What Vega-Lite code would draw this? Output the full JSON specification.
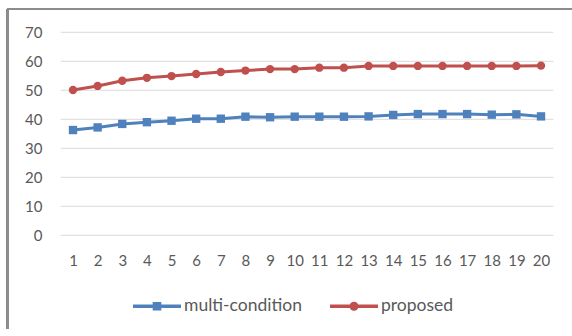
{
  "$schema": "https://vega.github.io/schema/vega-lite/v6.json",
  "autosize": {"type": "none"},
  "padding": {"left": 7, "top": 9, "right": 0, "bottom": 0},
  "width": 565,
  "height": 320,
  "background": "white",
  "config": {
    "view": {"stroke": null},
    "font": "Lato",
    "axis": {"labelOverlap": false, "labelFlush": false, "title": null, "grid": false, "domain": false, "ticks": false, "labelFont": "Lato", "labelFontSize": 15, "labelColor": "#595959"},
    "axisX": {"offset": -77, "labelPadding": 1},
    "axisY": {"offset": -37, "labelPadding": 2}
  },
  "data": {"values": [
    {"x": 1, "series": "multi-condition", "value": 36.3},
    {"x": 2, "series": "multi-condition", "value": 37.2},
    {"x": 3, "series": "multi-condition", "value": 38.4},
    {"x": 4, "series": "multi-condition", "value": 39.0},
    {"x": 5, "series": "multi-condition", "value": 39.5},
    {"x": 6, "series": "multi-condition", "value": 40.2},
    {"x": 7, "series": "multi-condition", "value": 40.2},
    {"x": 8, "series": "multi-condition", "value": 40.9},
    {"x": 9, "series": "multi-condition", "value": 40.7},
    {"x": 10, "series": "multi-condition", "value": 40.9},
    {"x": 11, "series": "multi-condition", "value": 40.9},
    {"x": 12, "series": "multi-condition", "value": 40.9},
    {"x": 13, "series": "multi-condition", "value": 41.0},
    {"x": 14, "series": "multi-condition", "value": 41.5},
    {"x": 15, "series": "multi-condition", "value": 41.8},
    {"x": 16, "series": "multi-condition", "value": 41.8},
    {"x": 17, "series": "multi-condition", "value": 41.8},
    {"x": 18, "series": "multi-condition", "value": 41.6},
    {"x": 19, "series": "multi-condition", "value": 41.7},
    {"x": 20, "series": "multi-condition", "value": 41.0},
    {"x": 1, "series": "proposed", "value": 50.1},
    {"x": 2, "series": "proposed", "value": 51.5},
    {"x": 3, "series": "proposed", "value": 53.3},
    {"x": 4, "series": "proposed", "value": 54.3},
    {"x": 5, "series": "proposed", "value": 54.9},
    {"x": 6, "series": "proposed", "value": 55.6},
    {"x": 7, "series": "proposed", "value": 56.3},
    {"x": 8, "series": "proposed", "value": 56.8},
    {"x": 9, "series": "proposed", "value": 57.3},
    {"x": 10, "series": "proposed", "value": 57.3},
    {"x": 11, "series": "proposed", "value": 57.8},
    {"x": 12, "series": "proposed", "value": 57.8},
    {"x": 13, "series": "proposed", "value": 58.4},
    {"x": 14, "series": "proposed", "value": 58.4},
    {"x": 15, "series": "proposed", "value": 58.4},
    {"x": 16, "series": "proposed", "value": 58.4},
    {"x": 17, "series": "proposed", "value": 58.4},
    {"x": 18, "series": "proposed", "value": 58.4},
    {"x": 19, "series": "proposed", "value": 58.4},
    {"x": 20, "series": "proposed", "value": 58.5}
  ]},
  "layer": [
    {
      "data": {"values": [{"g": 0}, {"g": 10}, {"g": 20}, {"g": 30}, {"g": 40}, {"g": 50}, {"g": 60}, {"g": 70}]},
      "mark": {"type": "rule", "color": "#D9D9D9", "strokeWidth": 1},
      "encoding": {
        "y": {
          "field": "g", "type": "quantitative",
          "scale": {"domain": [-32.31, 78.03], "nice": false, "zero": false},
          "axis": {"values": [0,10,20,30,40,50,60,70], "labelOverlap": false}
        },
        "x": {
          "datum": 0.5, "type": "quantitative",
          "scale": {"domain": [-1.6795, 21.258], "nice": false, "zero": false},
          "axis": {"values": [1,2,3,4,5,6,7,8,9,10,11,12,13,14,15,16,17,18,19,20], "format": "d", "labelOverlap": false}
        },
        "x2": {"datum": 20.5}
      }
    },
    {
      "mark": {"type": "rule", "color": "#8C8C8C", "strokeWidth": 1.5},
      "encoding": {
        "x": {"datum": -1.66, "type": "quantitative", "axis": {"values": [1,2,3,4,5,6,7,8,9,10,11,12,13,14,15,16,17,18,19,20], "format": "d", "labelOverlap": false}},
        "y": {"datum": -32.31, "type": "quantitative", "axis": {"values": [0,10,20,30,40,50,60,70], "labelOverlap": false}},
        "y2": {"datum": 78.0}
      }
    },
    {
      "mark": {"type": "rule", "color": "#8C8C8C", "strokeWidth": 1.5},
      "encoding": {
        "y": {"datum": 77.95, "type": "quantitative", "axis": {"values": [0,10,20,30,40,50,60,70], "labelOverlap": false}},
        "x": {"datum": -1.66, "type": "quantitative", "axis": {"values": [1,2,3,4,5,6,7,8,9,10,11,12,13,14,15,16,17,18,19,20], "format": "d", "labelOverlap": false}},
        "x2": {"datum": 22}
      }
    },
    {
      "mark": {"type": "line", "strokeWidth": 3},
      "encoding": {
        "x": {"field": "x", "type": "quantitative", "axis": {"values": [1,2,3,4,5,6,7,8,9,10,11,12,13,14,15,16,17,18,19,20], "format": "d", "labelOverlap": false}},
        "y": {"field": "value", "type": "quantitative", "axis": {"values": [0,10,20,30,40,50,60,70], "labelOverlap": false}},
        "color": {"field": "series", "type": "nominal", "scale": {"domain": ["multi-condition", "proposed"], "range": ["#4F81BD", "#C0504D"]}, "legend": null}
      }
    },
    {
      "mark": {"type": "point", "filled": true, "opacity": 1, "size": 70},
      "encoding": {
        "x": {"field": "x", "type": "quantitative", "axis": {"values": [1,2,3,4,5,6,7,8,9,10,11,12,13,14,15,16,17,18,19,20], "format": "d", "labelOverlap": false}},
        "y": {"field": "value", "type": "quantitative", "axis": {"values": [0,10,20,30,40,50,60,70], "labelOverlap": false}},
        "color": {"field": "series", "type": "nominal", "scale": {"domain": ["multi-condition", "proposed"], "range": ["#4F81BD", "#C0504D"]}, "legend": null},
        "shape": {"field": "series", "type": "nominal", "scale": {"domain": ["multi-condition", "proposed"], "range": ["square", "circle"]}, "legend": null}
      }
    },
    {
      "transform": [{"filter": "false"}],
      "mark": {"type": "point", "filled": true, "opacity": 1},
      "encoding": {
        "x": {"field": "x", "type": "quantitative", "axis": {"values": [1,2,3,4,5,6,7,8,9,10,11,12,13,14,15,16,17,18,19,20], "format": "d", "labelOverlap": false}},
        "y": {"field": "value", "type": "quantitative", "axis": {"values": [0,10,20,30,40,50,60,70], "labelOverlap": false}},
        "color": {"field": "series", "type": "nominal", "scale": {"domain": ["multi-condition", "proposed"], "range": ["#4F81BD", "#C0504D"]},
          "legend": {"orient": "none", "legendX": 126, "legendY": 273, "direction": "horizontal", "title": null, "symbolSize": 2304, "symbolStrokeWidth": 0, "labelFont": "Lato", "labelFontSize": 17.5, "labelColor": "#595959", "labelOffset": 3, "columnPadding": 28}},
        "shape": {"field": "series", "type": "nominal", "scale": {"domain": ["multi-condition", "proposed"], "range": ["M-1,-0.07H1V0.07H-1Z M-0.18,-0.18H0.18V0.18H-0.18Z", "M-1,-0.07H1V0.07H-1Z M-0.19,0A0.19,0.19 0 1,1 0.19,0A0.19,0.19 0 1,1 -0.19,0Z"]},
          "legend": {"orient": "none", "legendX": 126, "legendY": 273, "direction": "horizontal", "title": null, "symbolSize": 2304, "symbolStrokeWidth": 0, "labelFont": "Lato", "labelFontSize": 17.5, "labelColor": "#595959", "labelOffset": 3, "columnPadding": 28}}
      }
    }
  ],
  "resolve": {"scale": {"color": "independent", "shape": "independent"}}
}
